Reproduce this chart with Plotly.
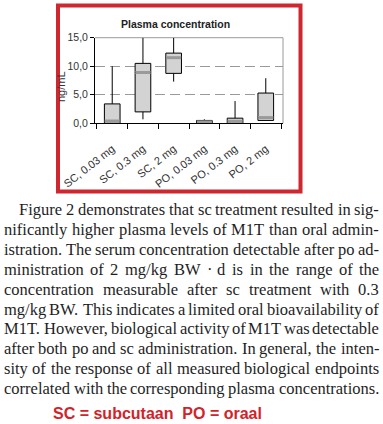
import plotly.graph_objects as go

# ---------------- data ----------------
categories = ["SC, 0.03 mg", "SC, 0.3 mg", "SC, 2 mg", "PO, 0.03 mg", "PO, 0.3 mg", "PO, 2 mg"]
q1 = [0.0, 2.0, 8.75, 0.0, 0.0, 0.5]
median = [0.4, 8.9, 11.5, 0.25, 0.35, 1.0]
q3 = [3.4, 10.5, 12.3, 0.5, 0.9, 5.3]
lower_whisker = [0.0, 0.7, 7.3, 0.0, 0.0, 0.4]
upper_whisker = [10.0, 15.0, 15.0, 0.7, 3.9, 7.9]
y_ticks = [0, 5, 10, 15]

chart_title = "Plasma concentration"
y_title = "ng/mL"

body_lines = [
    "Figure 2 demonstrates that sc treatment resulted in sig-",
    "nificantly higher plasma levels of M1T than oral admin-",
    "istration. The serum concentration detectable after po ad-",
    "ministration of 2 mg/kg BW \u00b7 d is in the range of the",
    "concentration measurable after sc treatment with 0.3",
    "mg/kg BW. This indicates a limited oral bioavailability of",
    "M1T. However, biological activity of M1T was detectable",
    "after both po and sc administration. In general, the inten-",
    "sity of the response of all measured biological endpoints",
    "correlated with the corresponding plasma concentrations.",
]
legend_note = "SC = subcutaan\u00a0 PO = oraal"

# ---------------- layout helpers ----------------
W, H = 383, 424
def px(x):
    return x / W
def py(y):
    return 1 - y / H

TIMES = {
    ' ': 250, '!': 333, ',': 250, '-': 333, '.': 250, '/': 278, ':': 278,
    '0': 500, '1': 500, '2': 500, '3': 500, '4': 500, '5': 500, '6': 500,
    '7': 500, '8': 500, '9': 500,
    'A': 722, 'B': 667, 'C': 667, 'D': 722, 'E': 611, 'F': 556, 'G': 722,
    'H': 722, 'I': 333, 'J': 389, 'K': 722, 'L': 611, 'M': 889, 'N': 722,
    'O': 722, 'P': 556, 'Q': 722, 'R': 667, 'S': 556, 'T': 611, 'U': 722,
    'V': 722, 'W': 944, 'X': 722, 'Y': 722, 'Z': 611,
    'a': 444, 'b': 500, 'c': 444, 'd': 500, 'e': 444, 'f': 333, 'g': 500,
    'h': 500, 'i': 278, 'j': 278, 'k': 500, 'l': 278, 'm': 778, 'n': 500,
    'o': 500, 'p': 500, 'q': 500, 'r': 333, 's': 389, 't': 278, 'u': 500,
    'v': 500, 'w': 722, 'x': 500, 'y': 500, 'z': 444, '\u00b7': 250,
}
BODY_SIZE = 16.5
def tw(s):
    return sum(TIMES.get(c, 500) for c in s) / 1000 * BODY_SIZE

fig = go.Figure()

fig.add_trace(go.Box(
    x=categories, q1=q1, median=median, q3=q3,
    lowerfence=lower_whisker, upperfence=upper_whisker,
    boxpoints=False, whiskerwidth=0, width=0.51,
    fillcolor="#d3d3d3", line=dict(color="black", width=1),
    hoverinfo="skip", showlegend=False,
))
fig.add_trace(go.Scatter(
    x=categories, y=median, mode="markers",
    marker=dict(symbol="line-ew", size=10.8, color="#9a9a9a",
                line=dict(color="#9a9a9a", width=3)),
    cliponaxis=False, hoverinfo="skip", showlegend=False,
))

annotations = []
annotations.append(dict(text="<b>" + chart_title + "</b>", x=px(175), y=py(24),
                        xref="paper", yref="paper", xanchor="center", yanchor="middle",
                        showarrow=False,
                        font=dict(family="Liberation Sans", size=10.5, color="#222")))
annotations.append(dict(text=y_title, x=px(61), y=py(87), textangle=-90,
                        xref="paper", yref="paper", xanchor="center", yanchor="middle",
                        showarrow=False, borderpad=0, borderwidth=0,
                        font=dict(family="Liberation Sans", size=11, color="#333")))

line_y0, line_dy = 209.5, 19.9
for i, line in enumerate(body_lines):
    words = line.split(" ")
    left = 19 if i == 0 else 4
    right = 379
    total = sum(tw(w) for w in words)
    gap = (right - left - total) / (len(words) - 1)
    x = left
    for w in words:
        annotations.append(dict(text=w, x=px(x), y=py(line_y0 + i * line_dy),
                                xref="paper", yref="paper", xanchor="left",
                                yanchor="middle", showarrow=False,
                                borderpad=0, borderwidth=0,
                                font=dict(family="Liberation Serif", size=BODY_SIZE,
                                          color="#1e1e1e")))
        x += tw(w) + gap

annotations.append(dict(text="<b>" + legend_note + "</b>", x=px(52.5), y=py(413),
                        xref="paper", yref="paper", xanchor="left", yanchor="middle",
                        showarrow=False, borderpad=0, borderwidth=0,
                        font=dict(family="Liberation Sans", size=16, color="#d2232a")))

shapes = [
    dict(type="rect", xref="paper", yref="paper", x0=px(58), x1=px(300.5),
         y0=py(5.5), y1=py(191.5), line=dict(color="#d0262e", width=4)),
    dict(type="line", xref="x domain", yref="y domain", x0=0, x1=1, y0=1, y1=1,
         line=dict(color="#9a9a9a", width=1), layer="below"),
    dict(type="line", xref="x domain", yref="y domain", x0=1, x1=1, y0=0, y1=1,
         line=dict(color="#9a9a9a", width=1), layer="below"),
]

fig.update_layout(
    width=W, height=H, margin=dict(l=0, r=0, t=0, b=0, autoexpand=False),
    paper_bgcolor="white", plot_bgcolor="white",
    separators=",.",
    showlegend=False,
    annotations=annotations, shapes=shapes,
    xaxis=dict(domain=[px(95), px(283)], type="category", automargin=False,
               showline=True, linecolor="black", linewidth=1,
               ticks="outside", tickson="boundaries", ticklen=5, tickcolor="black",
               tickangle=-38, ticklabelstandoff=14,
               tickfont=dict(family="Liberation Sans", size=11, color="#333"),
               showgrid=False, fixedrange=True),
    yaxis=dict(domain=[py(123.3), py(37.7)], range=[0, 15], automargin=False,
               tickvals=y_ticks, tickformat=".1f",
               showline=True, linecolor="black", linewidth=1,
               ticks="outside", ticklen=4, tickcolor="black",
               tickfont=dict(family="Liberation Sans", size=10.5, color="#333"),
               showgrid=True, gridcolor="#9a9a9a", griddash="10px,5px", gridwidth=1,
               zeroline=False, fixedrange=True),
)

fig.write_html(
    "out.html",
    config={"displayModeBar": False},
    post_script="document.body.style.margin='0';document.body.style.overflow='hidden';",
)
